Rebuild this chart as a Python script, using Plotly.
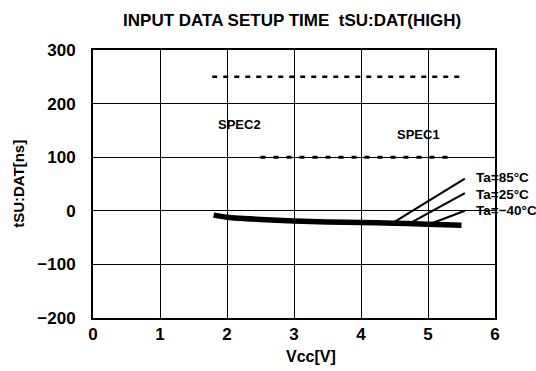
import plotly.graph_objects as go

# Measured setup time vs supply voltage (common trace, all temperatures)
vcc_main = [1.8, 2.0, 2.2, 2.5, 3.0, 3.5, 4.0, 4.5, 5.0, 5.5]
tsu_main = [-8, -12, -14, -16, -19, -21, -22, -23, -25, -27]

# Temperature branches above ~4.5 V
vcc_85 = [4.47, 5.55]
tsu_85 = [-23, 60]
vcc_25 = [4.72, 5.55]
tsu_25 = [-24, 33]
vcc_m40 = [5.02, 5.55]
tsu_m40 = [-25, 0]

# Specification limits
spec2_x = [1.78, 5.5]
spec2_y = [250, 250]
spec1_x = [2.5, 5.4]
spec1_y = [100, 100]

x_ticks = [0, 1, 2, 3, 4, 5, 6]
y_ticks = [-200, -100, 0, 100, 200, 300]

FONT = "Liberation Sans, Arial, sans-serif"

fig = go.Figure()

fig.add_trace(go.Scatter(x=spec2_x, y=spec2_y, mode="lines",
                         line=dict(color="black", width=2.5, dash="5px,6px")))
fig.add_trace(go.Scatter(x=spec1_x, y=spec1_y, mode="lines",
                         line=dict(color="black", width=3, dash="5px,8px")))

for xs, ys in [(vcc_85, tsu_85), (vcc_25, tsu_25), (vcc_m40, tsu_m40)]:
    fig.add_trace(go.Scatter(x=xs, y=ys, mode="lines",
                             line=dict(color="black", width=2.2)))

fig.add_trace(go.Scatter(x=vcc_main, y=tsu_main, mode="lines",
                         line=dict(color="black", width=5.5, shape="spline")))

annotations = [
    dict(x=1.84, y=161, text="<b>SPEC2</b>", xanchor="left", size=13),
    dict(x=4.86, y=143, text="<b>SPEC1</b>", xanchor="center", size=13),
    dict(x=5.68, y=62, text="<b>Ta=85°C</b>", xanchor="left", size=13.5),
    dict(x=5.68, y=31, text="<b>Ta=25°C</b>", xanchor="left", size=13.5),
    dict(x=5.68, y=1, text="<b>Ta=−40°C</b>", xanchor="left", size=13.5),
]
for a in annotations:
    size = a.pop("size")
    a.update(showarrow=False, yanchor="middle",
             font=dict(family=FONT, size=size, color="black"))

# Axis titles placed as paper-anchored text
annotations.append(dict(x=3.25, xref="x", y=-0.145, yref="paper",
                        text="<b>Vcc[V]</b>", showarrow=False,
                        xanchor="center", yanchor="middle",
                        font=dict(family=FONT, size=16, color="black")))
annotations.append(dict(x=-0.187, xref="paper", y=0.5, yref="paper",
                        text="<b>tSU:DAT[ns]</b>", showarrow=False,
                        textangle=-90, xanchor="center", yanchor="middle",
                        font=dict(family=FONT, size=15, color="black")))

fig.update_layout(
    width=536, height=371,
    margin=dict(l=93, r=41, t=50, b=53),
    paper_bgcolor="white", plot_bgcolor="white",
    showlegend=False,
    title=dict(text="<b>INPUT DATA SETUP TIME  tSU:DAT(HIGH)</b>",
               x=0.545, xanchor="center", y=0.945, yanchor="middle",
               font=dict(family=FONT, size=17, color="black")),
    annotations=annotations,
    xaxis=dict(range=[0, 6], tickvals=x_ticks,
               ticktext=[f"<b>{v}</b>" for v in x_ticks],
               showgrid=True, gridcolor="black", gridwidth=1,
               showline=True, linecolor="black", linewidth=2, mirror=True,
               zeroline=False, ticks="",
               tickfont=dict(family=FONT, size=17, color="black")),
    yaxis=dict(range=[-200, 300], tickvals=y_ticks,
               ticktext=[f"<b>{v}</b>".replace("-", "−") for v in y_ticks],
               showgrid=True, gridcolor="black", gridwidth=1,
               showline=True, linecolor="black", linewidth=2, mirror=True,
               zeroline=False, ticks="outside", ticklen=12, tickcolor="white",
               tickfont=dict(family=FONT, size=17, color="black")),
)

fig.write_html("out.html")
